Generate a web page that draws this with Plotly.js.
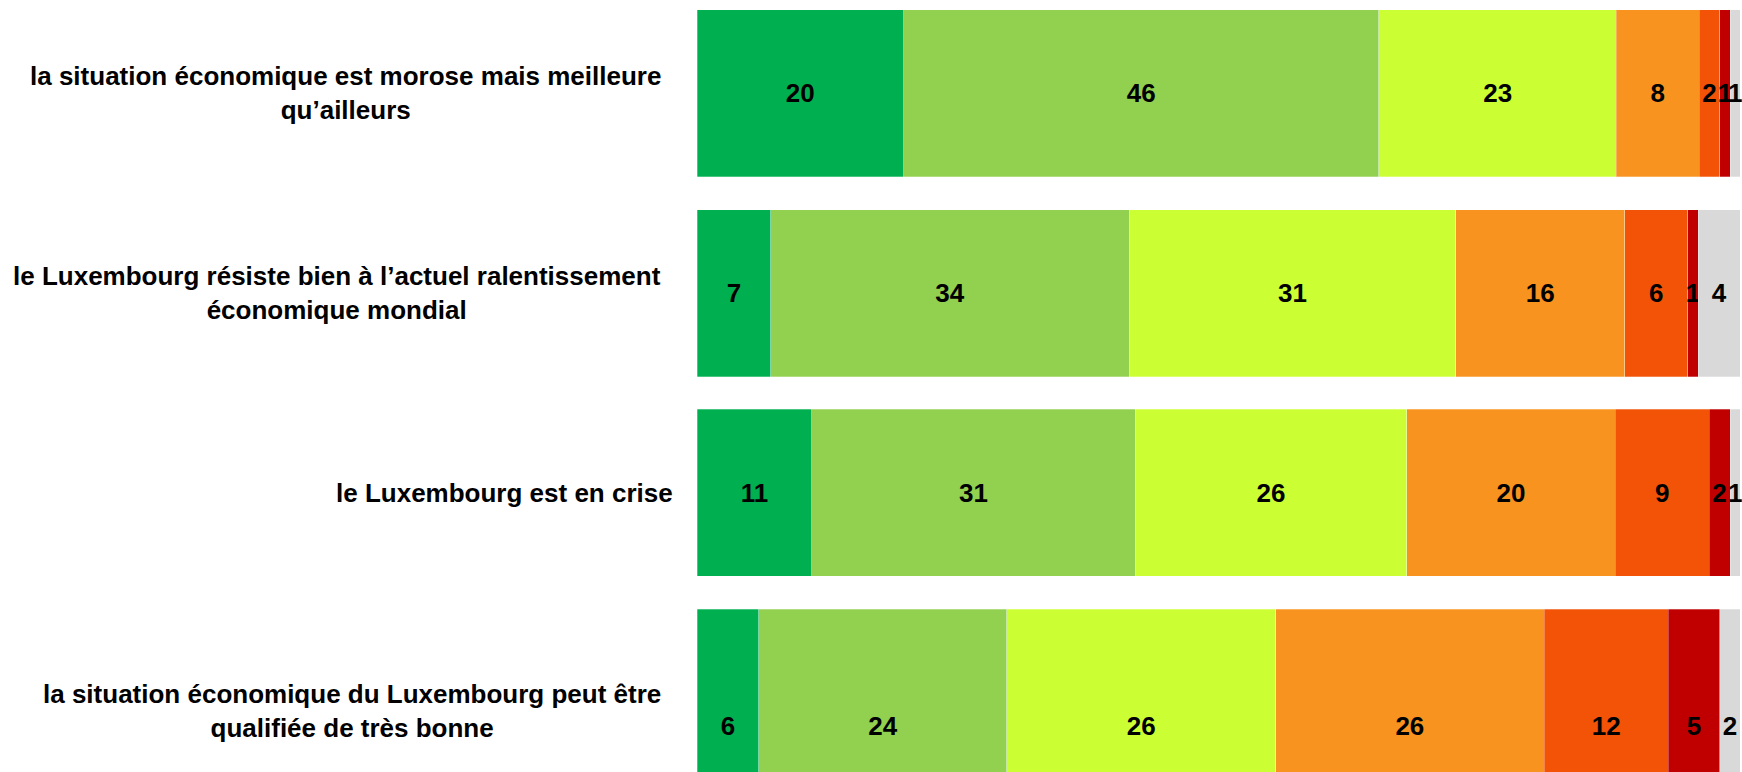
<!DOCTYPE html>
<html>
<head>
<meta charset="utf-8">
<script src="https://cdn.plot.ly/plotly-3.0.1.min.js"></script>
<style>html,body{margin:0;padding:0;background:#fff;}#chart{width:1742px;height:772px;}</style>
</head>
<body>
<div id="chart"></div>
<script>
// Row labels (top to bottom)
const categories = [
  "la situation économique est morose mais meilleure<br>qu’ailleurs",
  "le Luxembourg résiste bien à l’actuel ralentissement<br>économique mondial",
  "le Luxembourg est en crise",
  "la situation économique du Luxembourg peut être<br>qualifiée de très bonne"
];
// Response series (left to right)
const seriesNames = ["Tout à fait d’accord", "Plutôt d’accord", "Un peu d’accord", "Plutôt pas d’accord", "Pas d’accord", "Pas du tout d’accord", "Sans réponse"];
const s1 = [20, 7, 11, 6];
const s2 = [46, 34, 31, 24];
const s3 = [23, 31, 26, 26];
const s4 = [8, 16, 20, 26];
const s5 = [2, 6, 9, 12];
const s6 = [1, 1, 2, 5];
const s7 = [1, 4, 1, 2];
const seriesValues = [s1, s2, s3, s4, s5, s6, s7];
const colors = ["#00B050", "#92D050", "#CCFF33", "#F7931E", "#F25306", "#C00000", "#D9D9D9"];

// styling: bar thickness per row (last bar runs past the bottom edge of the picture)
const barThickness = [0.836, 0.836, 0.836, 1.167];
const barOffset = -0.418;
const labelYShift = [0, 0, 0, -18];

const rowIdx = categories.map((_, i) => i);
const font = {family: "Arial, 'Liberation Sans', sans-serif", size: 26, color: "#000000", weight: "bold"};

const traces = seriesValues.map((vals, k) => ({
  type: "bar",
  orientation: "h",
  name: seriesNames[k],
  x: vals,
  y: rowIdx,
  width: barThickness,
  offset: barOffset,
  text: vals.map(String),
  textposition: "inside",
  insidetextanchor: "middle",
  textangle: 0,
  constraintext: "none",
  cliponaxis: false,
  textfont: font,
  insidetextfont: font,
  marker: {color: colors[k], line: {width: 0.8, color: "rgba(255,255,255,0.35)"}},
  hovertemplate: "%{x}<extra>" + seriesNames[k] + "</extra>"
}));

const annotations = categories.map((c, i) => ({
  xref: "paper", yref: "y",
  x: 0, y: i,
  xanchor: "right", yanchor: "middle",
  xshift: c.indexOf("<br>") >= 0 ? -34 : -22,
  yshift: labelYShift[i],
  align: "center",
  showarrow: false,
  text: c,
  font: font
}));

const layout = {
  width: 1742, height: 772,
  margin: {l: 697, r: 0, t: 0, b: 0, pad: 0},
  barmode: "stack",
  barnorm: "percent",
  showlegend: false,
  paper_bgcolor: "#ffffff",
  plot_bgcolor: "#ffffff",
  xaxis: {range: [0, 100.15], visible: false, fixedrange: true},
  yaxis: {range: [3.398, -0.468], visible: false, fixedrange: true},
  annotations: annotations
};

Plotly.newPlot("chart", traces, layout, {displayModeBar: false, staticPlot: true});
</script>
</body>
</html>
